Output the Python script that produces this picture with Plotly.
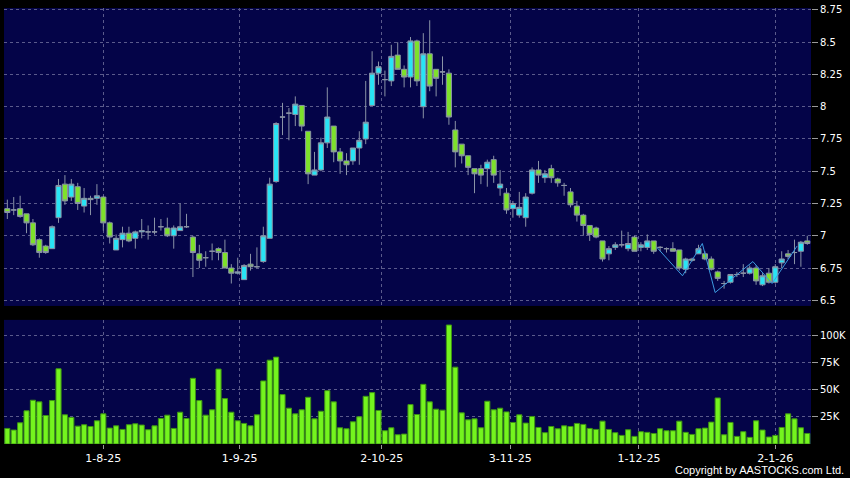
import plotly.graph_objects as go

# datos (velas diarias + volumen)
opens = [7.21, 7.20, 7.21, 7.17, 7.10, 6.97, 6.92, 6.90, 7.14, 7.40,
         7.30, 7.38, 7.23, 7.29, 7.29, 7.30, 7.10, 6.89, 6.97, 7.02,
         6.98, 7.03, 7.03, 7.03, 7.07, 7.06, 7.00, 7.04, 7.07, 6.99,
         6.86, 6.83, 6.88, 6.90, 6.87, 6.75, 6.71, 6.66, 6.78, 6.76,
         6.80, 6.98, 7.42, 7.92, 7.95, 7.94, 8.01, 7.81, 7.47, 7.51,
         7.72, 7.85, 7.65, 7.58, 7.58, 7.68, 7.75, 8.01, 8.26, 8.21,
         8.20, 8.40, 8.29, 8.23, 8.51, 8.00, 8.41, 8.29, 8.27, 8.26,
         7.82, 7.71, 7.62, 7.52, 7.52, 7.52, 7.59, 7.37, 7.33, 7.21,
         7.16, 7.14, 7.33, 7.51, 7.45, 7.52, 7.44, 7.39, 7.34, 7.23,
         7.16, 7.08, 7.06, 6.96, 6.86, 6.91, 6.93, 6.90, 6.99, 6.91,
         6.91, 6.96, 6.91, 6.90, 6.90, 6.89, 6.74, 6.82, 6.86, 6.86,
         6.82, 6.72, 6.63, 6.64, 6.70, 6.71, 6.71, 6.75, 6.62, 6.71,
         6.64, 6.79, 6.86, 6.87, 6.88, 6.96]
highs = [7.28, 7.30, 7.31, 7.17, 7.13, 6.98, 6.93, 7.08, 7.44, 7.47,
         7.44, 7.41, 7.37, 7.31, 7.40, 7.31, 7.11, 7.01, 7.07, 7.07,
         7.04, 7.13, 7.08, 7.14, 7.13, 7.14, 7.08, 7.25, 7.17, 7.00,
         6.93, 6.88, 6.94, 6.91, 6.97, 6.78, 6.83, 6.78, 6.86, 6.91,
         7.07, 7.45, 7.88, 8.03, 7.99, 8.08, 8.01, 7.81, 7.65, 7.76,
         8.15, 7.85, 7.68, 7.64, 7.68, 7.81, 8.20, 8.43, 8.35, 8.28,
         8.48, 8.50, 8.32, 8.54, 8.52, 8.57, 8.67, 8.29, 8.39, 8.29,
         7.89, 7.71, 7.62, 7.52, 7.55, 7.59, 7.62, 7.51, 7.37, 7.27,
         7.34, 7.33, 7.53, 7.58, 7.51, 7.55, 7.45, 7.41, 7.37, 7.27,
         7.17, 7.08, 7.07, 6.96, 6.92, 6.95, 7.04, 7.03, 7.00, 6.95,
         7.01, 6.96, 6.92, 6.91, 6.95, 6.89, 6.83, 6.83, 6.93, 6.88,
         6.84, 6.73, 6.65, 6.70, 6.72, 6.78, 6.77, 6.77, 6.71, 6.75,
         6.78, 6.88, 6.89, 6.97, 6.96, 7.00]
lows = [7.13, 7.16, 7.14, 7.02, 6.92, 6.83, 6.86, 6.90, 7.10, 7.24,
        7.27, 7.20, 7.18, 7.16, 7.24, 7.04, 6.94, 6.89, 6.91, 6.95,
        6.90, 6.98, 6.97, 7.01, 7.04, 6.99, 6.90, 7.04, 7.06, 6.68,
        6.75, 6.76, 6.81, 6.81, 6.75, 6.63, 6.70, 6.66, 6.73, 6.75,
        6.79, 6.98, 7.41, 7.78, 7.74, 7.85, 7.81, 7.40, 7.47, 7.50,
        7.68, 7.57, 7.48, 7.47, 7.55, 7.55, 7.71, 8.01, 8.17, 8.08,
        8.16, 8.29, 8.15, 8.15, 8.16, 7.91, 8.12, 8.08, 8.17, 7.86,
        7.53, 7.56, 7.47, 7.33, 7.40, 7.38, 7.41, 7.31, 7.17, 7.14,
        7.14, 7.07, 7.32, 7.41, 7.41, 7.41, 7.38, 7.31, 7.22, 7.11,
        7.00, 6.96, 6.98, 6.80, 6.81, 6.89, 6.91, 6.88, 6.88, 6.88,
        6.89, 6.86, 6.88, 6.87, 6.88, 6.73, 6.71, 6.80, 6.86, 6.81,
        6.73, 6.65, 6.59, 6.63, 6.68, 6.68, 6.70, 6.62, 6.61, 6.63,
        6.63, 6.75, 6.82, 6.78, 6.76, 6.93]
closes = [7.18, 7.20, 7.15, 7.10, 6.93, 6.87, 6.87, 7.07, 7.39, 7.27,
          7.40, 7.25, 7.29, 7.28, 7.31, 7.10, 6.99, 6.98, 7.02, 6.96,
          7.03, 7.04, 7.03, 7.03, 7.07, 7.00, 7.06, 7.07, 7.07, 6.87,
          6.81, 6.83, 6.88, 6.87, 6.75, 6.71, 6.72, 6.77, 6.76, 6.76,
          7.00, 7.40, 7.87, 7.92, 7.95, 8.02, 7.85, 7.48, 7.51, 7.72,
          7.92, 7.65, 7.58, 7.55, 7.68, 7.74, 7.88, 8.26, 8.31, 8.21,
          8.39, 8.29, 8.23, 8.51, 8.20, 8.41, 8.16, 8.22, 8.27, 7.92,
          7.65, 7.62, 7.53, 7.48, 7.47, 7.57, 7.47, 7.40, 7.20, 7.25,
          7.22, 7.30, 7.51, 7.47, 7.48, 7.45, 7.41, 7.39, 7.24, 7.16,
          7.08, 7.01, 6.99, 6.82, 6.90, 6.93, 6.93, 6.94, 6.88, 6.93,
          6.96, 6.88, 6.91, 6.90, 6.88, 6.75, 6.82, 6.81, 6.90, 6.82,
          6.74, 6.67, 6.63, 6.70, 6.70, 6.71, 6.75, 6.65, 6.69, 6.64,
          6.76, 6.82, 6.84, 6.87, 6.95, 6.94]
# volumen en miles
volumes_k = [14.3, 12.8, 19.5, 30.5, 40.2, 38.7, 26.2, 39.9, 69.1, 26.8,
             24.4, 16.4, 17.7, 16.1, 21.3, 27.7, 14.6, 16.7, 13.4, 17.7,
             18.6, 17.4, 13.1, 16.7, 23.4, 26.5, 14.3, 29.2, 23.4, 60.3,
             39.9, 26.5, 31.4, 68.8, 41.7, 29.2, 21.3, 18.9, 16.7, 26.8,
             57.9, 77.0, 79.8, 45.4, 32.9, 27.7, 31.4, 42.9, 23.1, 30.1,
             49.0, 38.7, 14.9, 14.0, 20.4, 25.0, 43.8, 47.2, 30.8, 12.2,
             14.9, 8.5, 9.1, 36.2, 27.1, 54.8, 38.7, 32.0, 31.1, 109.3,
             70.6, 28.6, 22.2, 23.1, 14.9, 39.3, 31.4, 32.9, 29.5, 19.8,
             26.8, 19.2, 25.3, 15.2, 10.4, 16.1, 14.0, 16.7, 16.1, 18.9,
             18.0, 14.3, 13.4, 21.0, 13.4, 10.4, 7.9, 13.1, 7.0, 11.3,
             10.7, 9.7, 14.0, 12.2, 12.2, 21.0, 10.7, 8.8, 14.0, 14.6,
             20.1, 42.3, 8.5, 19.8, 7.0, 11.3, 6.1, 21.3, 12.8, 6.4,
             7.9, 15.2, 27.7, 23.1, 14.9, 9.7]

# linea zigzag (indice de barra, precio)
zz_x = [101.5, 105.5, 108.6, 110.6, 116.5, 119.5, 123.4]
zz_y = [6.91, 6.69, 6.94, 6.56, 6.80, 6.63, 6.92]

tick_pos = [15, 36.3, 58.5, 78.6, 98.7, 120]
tick_labels = ['1-8-25', '1-9-25', '2-10-25', '3-11-25', '1-12-25', '2-1-26']
price_ticks = [6.5, 6.75, 7, 7.25, 7.5, 7.75, 8, 8.25, 8.5, 8.75]
price_labels = ['6.5', '6.75', '7', '7.25', '7.5', '7.75', '8', '8.25', '8.5', '8.75']
vol_ticks = [25000, 50000, 75000, 100000]
vol_labels = ['25K', '50K', '75K', '100K']

x = list(range(len(closes)))
volumes = [v * 1000 for v in volumes_k]

fig = go.Figure()

fig.add_trace(go.Candlestick(
    x=x, open=opens, high=highs, low=lows, close=closes,
    increasing=dict(fillcolor='#28e4f5', line=dict(color='#8a93a6', width=1)),
    decreasing=dict(fillcolor='#7ee12b', line=dict(color='#8a93a6', width=1)),
    xaxis='x', yaxis='y', showlegend=False
))

fig.add_trace(go.Scatter(
    x=zz_x, y=zz_y, mode='lines',
    line=dict(color='#3d9be0', width=1),
    xaxis='x', yaxis='y', showlegend=False
))

fig.add_trace(go.Bar(
    x=x, y=volumes,
    marker=dict(color='#74f41e', line=dict(color='#3e9414', width=1)),
    xaxis='x2', yaxis='y2', showlegend=False
))

grid = dict(gridcolor='#5b5b8c', griddash='3px,3px', gridwidth=1)
yfont = dict(family='DejaVu Sans', size=10, color='#ffffff')
xfont = dict(family='DejaVu Sans', size=11, color='#ffffff')
xr = [-0.52, 125.58]

fig.update_layout(
    width=850, height=478,
    paper_bgcolor='#000000',
    plot_bgcolor='#040448',
    margin=dict(l=4, r=39, t=5, b=34),
    boxgap=0.2,
    boxgroupgap=0,
    bargap=0.2,
    xaxis=dict(domain=[0, 1], anchor='y', range=xr, tickvals=tick_pos,
               showticklabels=False, ticks='', zeroline=False,
               rangeslider=dict(visible=False), **grid),
    yaxis=dict(domain=[0.3166, 1], anchor='x', side='right', range=[6.456, 8.765],
               tickvals=price_ticks, ticktext=price_labels, ticks='outside',
               ticklen=6, tickcolor='#9a9a9a', tickfont=yfont, zeroline=False, **grid),
    xaxis2=dict(domain=[0, 1], anchor='y2', range=xr, tickvals=tick_pos,
                ticktext=tick_labels, ticks='outside', ticklen=4,
                tickcolor='#9a9a9a', tickfont=xfont, zeroline=False, **grid),
    yaxis2=dict(domain=[0, 0.2847], anchor='x2', side='right', range=[0, 114000],
                tickvals=vol_ticks, ticktext=vol_labels, ticks='outside',
                ticklen=6, tickcolor='#9a9a9a', tickfont=yfont, zeroline=False, **grid),
)

fig.add_annotation(
    text='Copyright by AASTOCKS.com Ltd.',
    xref='paper', yref='paper', x=1.0434, y=-0.059,
    xanchor='right', yanchor='middle', showarrow=False,
    font=dict(family='Liberation Sans', size=11, color='#ffffff')
)

# quitar el margen del body para que la figura quede en (0,0)
fig.write_html('out.html', config={'displayModeBar': False},
               post_script="document.body.style.margin='0';")
